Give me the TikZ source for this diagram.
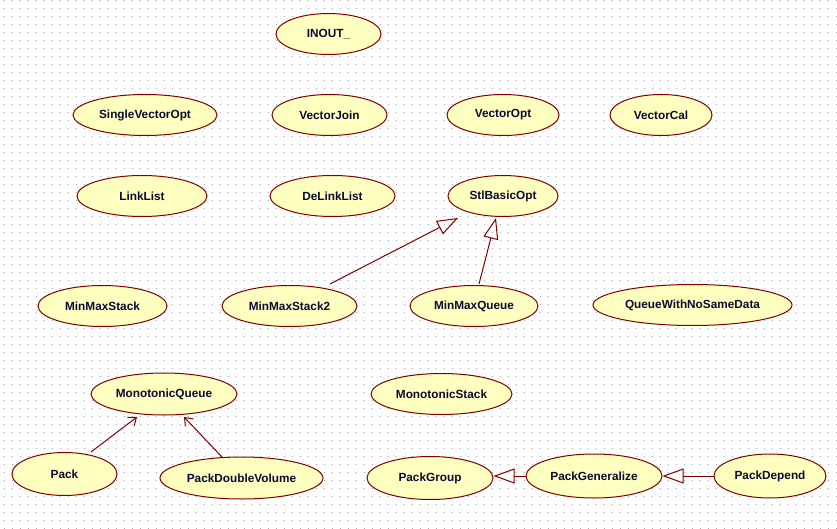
\documentclass[tikz,border=0pt]{standalone}
\usepackage{fontspec}
\setmainfont{Liberation Sans}
\usetikzlibrary{shapes.geometric,arrows.meta}
\definecolor{ucfill}{HTML}{FFFFC0}
\definecolor{ucline}{HTML}{800000}
\definecolor{uctext}{HTML}{0A0A30}
\definecolor{dotgrey}{HTML}{A8A8A8}
\tikzset{
  uc/.style={ellipse, draw=ucline, fill=ucfill, line width=1pt, inner sep=0pt,
    minimum height=41pt, text=uctext, font=\fontsize{11.8}{14}\selectfont\bfseries},
  gen/.style={draw=ucline, line width=1pt, -{Triangle[open,length=21pt,width=15pt]}},
  dep/.style={draw=ucline, line width=1pt, -{Straight Barb[length=7pt,width=11pt]}},
}
\begin{document}
\begin{tikzpicture}[x=1pt,y=-1pt]
\useasboundingbox (0,0) rectangle (837,529);
\fill[white] (0,0) rectangle (837,529);
% dotted grid
\foreach \j in {0,8,...,528} {
  \draw[dotgrey, line width=1pt, dash pattern=on 1pt off 7pt] (3.5,\j+0.5) -- (837,\j+0.5);
}
% use cases
\node[uc, minimum width=105pt] (inout) at (328.5,34) {INOUT\_};
\node[uc, minimum width=144pt] (svo) at (145,115) {SingleVectorOpt};
\node[uc, minimum width=115pt] (vj) at (329.5,115) {VectorJoin};
\node[uc, minimum width=112pt] (vo) at (503,115) {VectorOpt};
\node[uc, minimum width=102pt] (vc) at (661,115) {VectorCal};
\node[uc, minimum width=130pt] (ll) at (142,196) {LinkList};
\node[uc, minimum width=125pt] (dll) at (332.5,196) {DeLinkList};
\node[uc, minimum width=110pt] (stl) at (503,196) {StlBasicOpt};
\node[uc, minimum width=129pt] (ms) at (102.5,306) {MinMaxStack};
\node[uc, minimum width=135pt] (ms2) at (289.5,306) {MinMaxStack2};
\node[uc, minimum width=128pt] (mmq) at (474,306) {MinMaxQueue};
\node[uc, minimum width=199pt] (qns) at (692.5,305) {QueueWithNoSameData};
\node[uc, minimum width=146pt, minimum height=42pt] (mq) at (164,394) {MonotonicQueue};
\node[uc, minimum width=141pt] (mst) at (441.5,394) {MonotonicStack};
\node[uc, minimum width=105pt, minimum height=43pt] (pack) at (64.5,474) {Pack};
\node[uc, minimum width=163pt, minimum height=42pt] (pdv) at (241.5,478) {PackDoubleVolume};
\node[uc, minimum width=126pt, minimum height=43pt] (pgrp) at (430,478) {PackGroup};
\node[uc, minimum width=136pt, minimum height=44pt] (pgen) at (594,476) {PackGeneralize};
\node[uc, minimum width=112pt, minimum height=44pt] (pdep) at (770,476) {PackDepend};
% connectors
\draw[gen] ([shift={(40.5pt,22pt)}]ms2.center) -- ([shift={(-45pt,-22pt)}]stl.center);
\draw[gen] ([shift={(5pt,22pt)}]mmq.center) -- ([shift={(-7pt,-22pt)}]stl.center);
\draw[dep] ([shift={(26.5pt,22pt)}]pack.center) -- ([shift={(-27pt,-23pt)}]mq.center);
\draw[dep] ([shift={(-19.5pt,21pt)}]pdv.center) -- ([shift={(20pt,-23pt)}]mq.center);
\draw[gen] (pgen.west) -- (pgen.west -| pgrp.east);
\draw[gen] (pdep.west) -- (pdep.west -| pgen.east);
\end{tikzpicture}
\end{document}
